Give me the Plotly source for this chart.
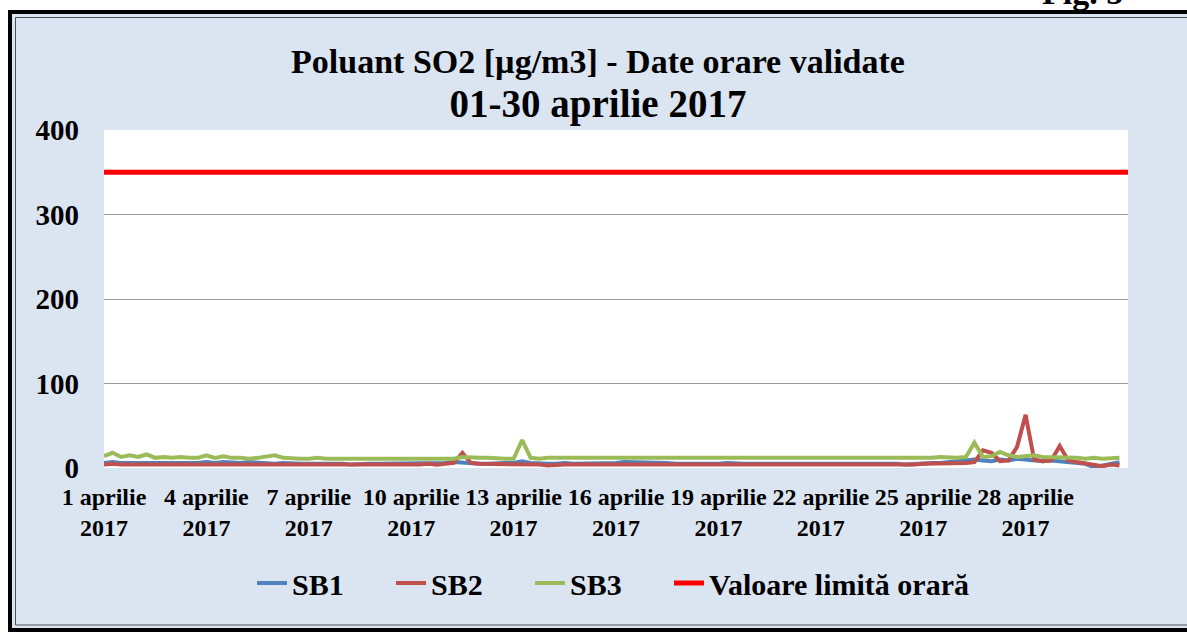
import pandas as pd
import plotly.graph_objects as go

# ---- data (6-hour readings, 1-30 aprilie 2017) ----
SB1 = [
    6, 7, 6, 6,   6, 6, 5, 6,   6, 5, 5, 6,   7, 6, 7, 6,   6, 7, 6, 5,
    5, 6, 5, 5,   5, 5, 6, 5,   5, 4, 5, 5,   5, 5, 6, 5,   5, 6, 5, 5,
    6, 7, 6, 5,   5, 5, 6, 6,   6, 8, 6, 5,   5, 5, 6, 5,   5, 5, 5, 6,
    6, 7, 7, 6,   6, 7, 6, 5,   5, 5, 4, 5,   5, 6, 5, 5,   5, 5, 6, 5,
    5, 6, 6, 5,   5, 5, 6, 6,   6, 5, 5, 6,   5, 5, 4, 5,   5, 6, 6, 7,
    7, 9, 10, 9,  8, 10, 9, 11, 10, 9, 8, 9,  8, 7, 6, 5,   1, 3, 6, 7,
]
SB2 = [
    4, 5, 4, 4,   4, 3, 4, 4,   3, 3, 4, 4,   4, 3, 3, 4,   4, 4, 3, 3,
    4, 3, 3, 4,   4, 4, 4, 3,   3, 3, 4, 4,   4, 3, 3, 4,   4, 4, 5, 4,
    5, 6, 18, 6,  5, 5, 4, 4,   4, 5, 4, 4,   3, 4, 4, 4,   4, 3, 4, 4,
    4, 4, 3, 4,   4, 3, 4, 4,   3, 4, 4, 3,   4, 4, 3, 4,   4, 3, 4, 4,
    4, 3, 4, 4,   4, 4, 3, 4,   4, 4, 3, 3,   3, 4, 4, 4,   5, 5, 5, 6,
    5, 6, 7, 21,  18, 8, 9, 25, 63, 10, 8, 9, 26, 9, 7, 5,  3, 2, 4, 3,
]
SB3 = [
    14, 18, 13, 15, 13, 16, 12, 13, 12, 13, 12, 12, 15, 12, 14, 12, 12, 11, 12, 13,
    15, 12, 11, 11, 11, 12, 11, 11, 11, 11, 12, 11, 11, 12, 11, 11, 12, 11, 11, 12,
    12, 11, 13, 12, 12, 12, 11, 11, 11, 33, 12, 11, 12, 12, 12, 12, 11, 12, 11, 12,
    12, 11, 12, 11, 11, 12, 11, 12, 11, 11, 12, 11, 12, 11, 11, 12, 11, 12, 11, 11,
    12, 11, 11, 12, 11, 12, 11, 11, 12, 11, 12, 11, 11, 12, 12, 11, 12, 12, 13, 12,
    12, 13, 30, 13, 14, 19, 15, 13, 14, 15, 13, 13, 12, 13, 12, 11, 12, 11, 12, 12,
]
LIMIT = 350
TICK_DAYS = [1, 4, 7, 10, 13, 16, 19, 22, 25, 28]
TICK_LABELS = [f"{d} aprilie<br>2017" for d in TICK_DAYS]
SERIES_NAMES = ["SB1", "SB2", "SB3", "Valoare limită orară"]

times = pd.date_range("2017-04-01 00:00", periods=len(SB1), freq="6h")
x_start = pd.Timestamp("2017-04-01 00:00")
x_end = pd.Timestamp("2017-05-01 00:00")
tickvals = [pd.Timestamp(2017, 4, d) for d in TICK_DAYS]

FONT = "Liberation Serif"
W, H = 1187, 635
ML, MR, MT, MB = 104, 59, 130, 167
PW, PH = W - ML - MR, H - MT - MB

def px(x):
    return (x - ML) / PW

def py(y):
    return (H - MB - y) / PH

fig = go.Figure()
fig.add_trace(go.Scatter(x=times, y=SB1, name=SERIES_NAMES[0], mode="lines",
                         line=dict(color="#4f81bd", width=4), legend="legend"))
fig.add_trace(go.Scatter(x=times, y=SB2, name=SERIES_NAMES[1], mode="lines",
                         line=dict(color="#c0504d", width=4), legend="legend2"))
fig.add_trace(go.Scatter(x=times, y=SB3, name=SERIES_NAMES[2], mode="lines",
                         line=dict(color="#9bbb59", width=4), legend="legend3"))
fig.add_trace(go.Scatter(x=[x_start, x_end], y=[LIMIT, LIMIT], name=SERIES_NAMES[3],
                         mode="lines", line=dict(color="#ff0000", width=5), legend="legend4"))

shapes = [
    # white margins outside frame
    dict(type="rect", xref="paper", yref="paper", x0=px(-5), x1=px(W + 5), y0=py(-5), y1=py(10),
         fillcolor="white", line=dict(width=0)),
    dict(type="rect", xref="paper", yref="paper", x0=px(-5), x1=px(8), y0=py(-5), y1=py(H + 5),
         fillcolor="white", line=dict(width=0)),
    dict(type="rect", xref="paper", yref="paper", x0=px(-5), x1=px(W + 5), y0=py(632), y1=py(H + 5),
         fillcolor="white", line=dict(width=0)),
    # frame lines
    dict(type="rect", xref="paper", yref="paper", x0=px(10), x1=px(W + 20), y0=py(12), y1=py(630),
         line=dict(color="black", width=4)),
    dict(type="rect", xref="paper", yref="paper", x0=px(15.5), x1=px(W + 20), y0=py(17.5), y1=py(625),
         line=dict(color="#505050", width=1)),
]

LEG_FONT = dict(family=FONT, size=30, color="black", weight="bold")

def legend_at(text_x):
    return dict(orientation="h", xref="container", yref="container",
                x=(text_x - 41) / W, xanchor="left", y=1 - 583 / H, yanchor="middle",
                bgcolor="rgba(0,0,0,0)", font=LEG_FONT)

fig.update_layout(
    width=W, height=H,
    margin=dict(l=ML, r=MR, t=MT, b=MB, autoexpand=False),
    paper_bgcolor="#dbe5f1",
    plot_bgcolor="white",
    shapes=shapes,
    title=dict(text="Poluant SO2 [µg/m3] - Date orare validate<br>"
                    "<span style='font-size:39px'>01-30 aprilie 2017</span>",
               x=598 / W, xref="container", xanchor="center",
               y=1 - 73 / H, yref="container", yanchor="top",
               font=dict(family=FONT, size=34, color="black", weight="bold")),
    xaxis=dict(type="date", range=[x_start, x_end], tickmode="array",
               tickvals=tickvals, ticktext=TICK_LABELS, showgrid=False,
               zeroline=False, showline=False, ticks="", ticklabelstandoff=12,
               tickfont=dict(family=FONT, size=24, color="black", weight="bold"),
               tickangle=0),
    yaxis=dict(range=[0, 400], tickvals=[0, 100, 200, 300, 400], showgrid=True,
               gridcolor="#999999", gridwidth=1, zeroline=False, showline=False,
               ticks="", ticklabelstandoff=24,
               tickfont=dict(family=FONT, size=29, color="black", weight="bold")),
    showlegend=True,
    legend=legend_at(293),
    legend2=legend_at(432),
    legend3=legend_at(571),
    legend4=legend_at(710),
    annotations=[dict(text="Fig. 5", xref="paper", yref="paper", x=px(1125), y=py(13),
                      xanchor="right", yanchor="bottom", showarrow=False,
                      font=dict(family=FONT, size=34, color="black", weight="bold"))],
)

fig.write_html("out.html", config={"displayModeBar": False},
               post_script="document.body.style.margin='0';document.body.style.overflow='hidden';")
